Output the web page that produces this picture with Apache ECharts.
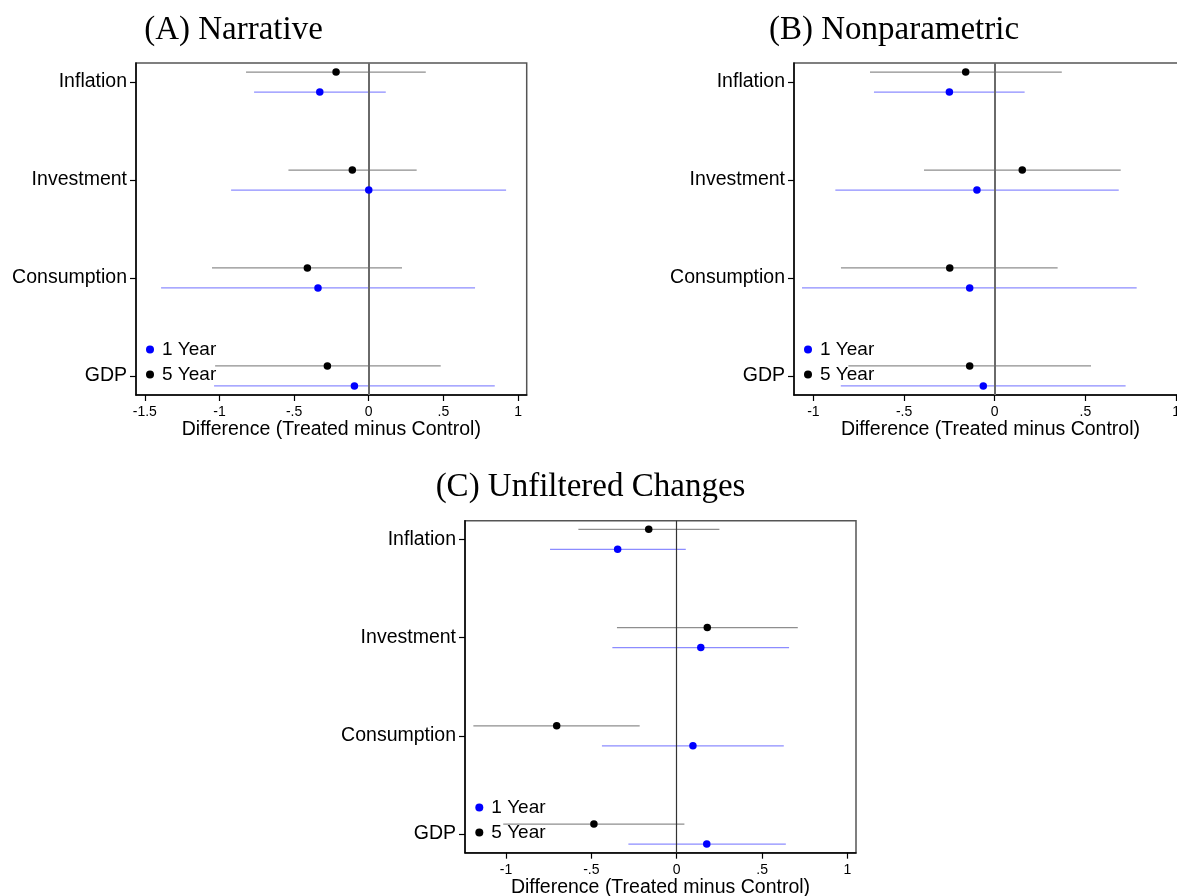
<!DOCTYPE html>
<html>
<head>
<meta charset="utf-8">
<script src="https://cdn.jsdelivr.net/npm/echarts@6/dist/echarts.min.js"></script>
<style>
  html, body { margin: 0; padding: 0; background: #fff; }
  #chart { width: 1177px; height: 896px; }
</style>
</head>
<body>
<div id="chart"></div>
<script>
// Outcome rows, top to bottom
const categories = ['Inflation', 'Investment', 'Consumption', 'GDP'];
const horizonNames = ['1 Year', '5 Year'];
const panelTitles = ['(A) Narrative', '(B) Nonparametric', '(C) Unfiltered Changes'];
const axisTitle = 'Difference (Treated minus Control)';

// x-axis tick positions
const xTicksA = [-1.5, -1, -0.5, 0, 0.5, 1];
const xTicksB = [-1, -0.5, 0, 0.5, 1];
const xTicksC = [-1, -0.5, 0, 0.5, 1];

// Each row: [lower bound, estimate, upper bound], in category order
const narrative1Year = [[-0.768, -0.328, 0.114], [-0.922, 0.000, 0.920], [-1.391, -0.340, 0.712], [-1.036, -0.096, 0.844]];
const narrative5Year = [[-0.822, -0.219, 0.382], [-0.538, -0.110, 0.321], [-1.050, -0.411, 0.223], [-1.029, -0.277, 0.482]];
const nonparametric1Year = [[-0.666, -0.250, 0.165], [-0.879, -0.098, 0.684], [-1.063, -0.138, 0.783], [-0.849, -0.063, 0.722]];
const nonparametric5Year = [[-0.688, -0.160, 0.370], [-0.390, 0.152, 0.695], [-0.848, -0.248, 0.347], [-0.807, -0.138, 0.531]];
const unfiltered1Year = [[-0.742, -0.346, 0.053], [-0.377, 0.141, 0.658], [-0.438, 0.095, 0.627], [-0.283, 0.176, 0.639]];
const unfiltered5Year = [[-0.576, -0.164, 0.250], [-0.350, 0.179, 0.709], [-1.191, -0.703, -0.217], [-1.016, -0.485, 0.045]];

const SANS = '"Liberation Sans", Arial, Helvetica, sans-serif';
const SERIF = '"Liberation Serif", "Times New Roman", serif';
const BLUE = '#0000ff';
const BLUE_CI = '#8c8cff';
const GRAY_CI = '#8e8e8e';

// Layout of each panel
const panels = [
  { grid: { left: 136, top: 63, width: 390.7, height: 332 }, xMin: -1.559, xMax: 1.058, yMin: -0.195, yMax: 3.195,
    ticks: xTicksA, one: narrative1Year, five: narrative5Year, zero: { color: '#6a6a6a', width: 2 },
    legend: { left: 146, top: 340 }, title: { x: 233.5, y: 30 } },
  { grid: { left: 794, top: 63, width: 392.9, height: 332 }, xMin: -1.107, xMax: 1.060, yMin: -0.195, yMax: 3.195,
    ticks: xTicksB, one: nonparametric1Year, five: nonparametric5Year, zero: { color: '#6a6a6a', width: 2 },
    legend: { left: 804, top: 340 }, title: { x: 894, y: 30 } },
  { grid: { left: 465, top: 520.7, width: 391, height: 332 }, xMin: -1.240, xMax: 1.050, yMin: -0.19, yMax: 3.19,
    ticks: xTicksC, one: unfiltered1Year, five: unfiltered5Year, zero: { color: '#333333', width: 1.2 },
    legend: { left: 475.3, top: 798 }, title: { x: 590.5, y: 487 } }
];

// Stata-style tick labels: "-.5", ".5"
function fmtTick(v) {
  return String(v).replace(/^(-?)0\./, '$1.');
}

// Confidence-interval segment, shifted a few pixels above/below the row
function ciRenderer(dy, color) {
  return function (params, api) {
    const row = api.value(2);
    const a = api.coord([api.value(0), row]);
    const b = api.coord([api.value(1), row]);
    return {
      type: 'line',
      shape: { x1: a[0], y1: a[1] + dy, x2: b[0], y2: b[1] + dy },
      style: { stroke: color, lineWidth: 1.3 }
    };
  };
}

const grid = [], xAxis = [], yAxis = [], series = [], legend = [], graphic = [];

panels.forEach(function (p, i) {
  grid.push(Object.assign({ show: true, borderColor: '#555', borderWidth: 1.5, containLabel: false, outerBoundsMode: 'none' }, p.grid));

  xAxis.push({
    gridIndex: i, type: 'value', min: p.xMin, max: p.xMax,
    axisLine: { show: true, onZero: false, lineStyle: { color: '#000', width: 1.5 } },
    axisTick: { show: true, length: 6, customValues: p.ticks, lineStyle: { color: '#000', width: 1.2 } },
    axisLabel: { show: true, customValues: p.ticks, formatter: fmtTick, fontSize: 14, fontFamily: SANS, color: '#000', margin: 10 },
    splitLine: { show: false },
    name: axisTitle, nameLocation: 'middle', nameGap: 25,
    nameTextStyle: { fontSize: 19.5, fontFamily: SANS, color: '#000' }
  });

  yAxis.push({
    gridIndex: i, type: 'value', inverse: true, min: p.yMin, max: p.yMax,
    axisLine: { show: true, onZero: false, lineStyle: { color: '#000', width: 1.5 } },
    axisTick: { show: true, length: 6, customValues: [0, 1, 2, 3], lineStyle: { color: '#000', width: 1.2 } },
    axisLabel: { show: true, customValues: [0, 1, 2, 3], formatter: function (v) { return categories[v]; },
      fontSize: 19.5, fontFamily: SANS, color: '#000', margin: 9 },
    splitLine: { show: false }
  });

  const ci5 = p.five.map(function (t, k) { return [t[0], t[2], k]; });
  const ci1 = p.one.map(function (t, k) { return [t[0], t[2], k]; });

  series.push({
    type: 'custom', name: 'ci5-' + i, xAxisIndex: i, yAxisIndex: i, z: 2, silent: true,
    renderItem: ciRenderer(-10, GRAY_CI), encode: { x: [0, 1], y: 2 }, data: ci5,
    markLine: {
      silent: true, symbol: 'none', label: { show: false }, z: 3,
      lineStyle: { color: p.zero.color, width: p.zero.width, type: 'solid', opacity: 1 },
      data: [{ xAxis: 0 }]
    }
  });
  series.push({
    type: 'custom', name: 'ci1-' + i, xAxisIndex: i, yAxisIndex: i, z: 2, silent: true,
    renderItem: ciRenderer(10, BLUE_CI), encode: { x: [0, 1], y: 2 }, data: ci1
  });
  series.push({
    type: 'scatter', name: horizonNames[1], xAxisIndex: i, yAxisIndex: i, z: 5, silent: true,
    symbol: 'circle', symbolSize: 7.5, symbolOffset: [0, -10], itemStyle: { color: '#000', opacity: 1 },
    data: p.five.map(function (t, k) { return [t[1], k]; })
  });
  series.push({
    type: 'scatter', name: horizonNames[0], xAxisIndex: i, yAxisIndex: i, z: 5, silent: true,
    symbol: 'circle', symbolSize: 7.5, symbolOffset: [0, 10], itemStyle: { color: BLUE, opacity: 1 },
    data: p.one.map(function (t, k) { return [t[1], k]; })
  });

  legend.push({
    data: horizonNames, orient: 'vertical', left: p.legend.left, top: p.legend.top,
    icon: 'circle', itemWidth: 8, itemHeight: 8, itemGap: 6, padding: 0, selectedMode: false,
    itemStyle: { opacity: 1 },
    textStyle: { fontSize: 19, fontFamily: SANS, color: '#000', padding: [0, 0, 0, 3] }
  });

  graphic.push({
    type: 'text', x: p.title.x, y: p.title.y, silent: true,
    style: { text: panelTitles[i], fill: '#000', font: 'normal 33px ' + SERIF, align: 'center', verticalAlign: 'middle' }
  });
});

const chart = echarts.init(document.getElementById('chart'), null, { renderer: 'canvas' });
chart.setOption({
  backgroundColor: '#fff',
  animation: false,
  grid: grid, xAxis: xAxis, yAxis: yAxis, series: series, legend: legend, graphic: graphic
});
</script>
</body>
</html>
